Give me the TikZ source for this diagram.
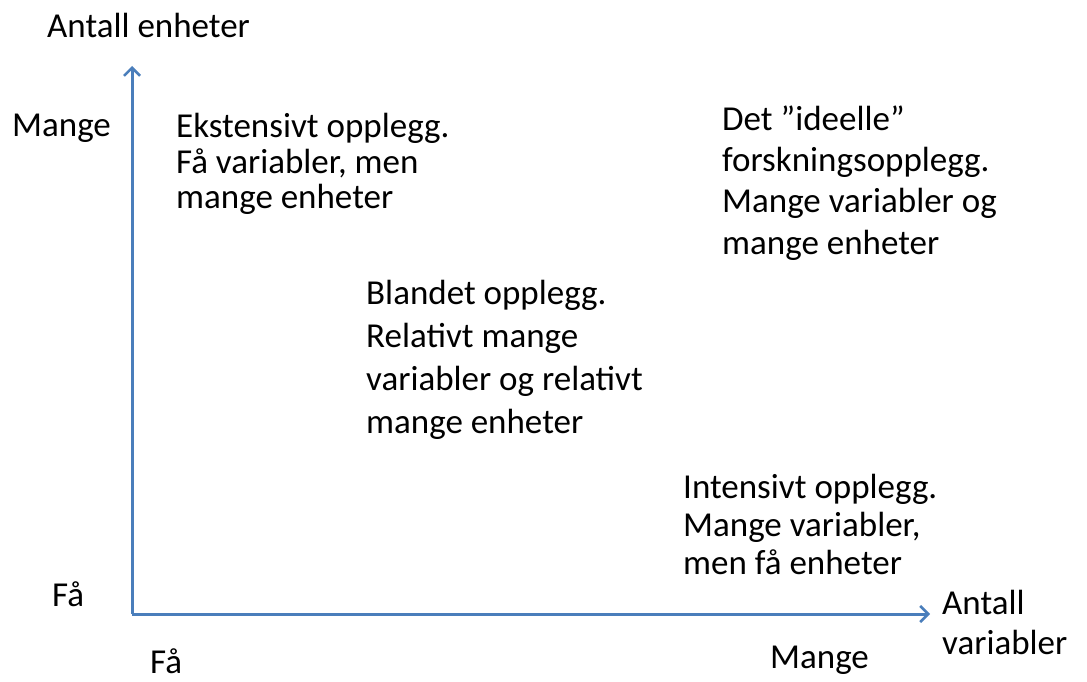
\documentclass[tikz,border=0pt]{standalone}
\usepackage{fontspec}
\setmainfont{Carlito}
\usetikzlibrary{arrows.meta}
\begin{document}
\begin{tikzpicture}[x=1bp,y=-1bp,
		akse/.style={draw=axisblue,line width=3bp,-{Straight Barb[length=8bp,width=16bp,line width=2.5bp]}},
		tekst/.style={anchor=base west,inner sep=0pt,align=left,font=\fontsize{35bp}{#1}\selectfont},
		tekst/.default=40bp]
					\definecolor{axisblue}{HTML}{4A7EBB}
					\useasboundingbox (0,0) rectangle (1087,682);
					\coordinate (origo) at (132,614);
					\coordinate (ytopp) at (132,66);
					\coordinate (xende) at (930,614);
					\draw[akse] (origo) -- (ytopp);
					\draw[akse] (origo) -- (xende);
					\node[tekst] (ylabel) at (47,38) {Antall enheter};
					\node[tekst] (ymange) at (12,137) {Mange};
					\node[tekst] (yfaa) at (52,606) {Få};
					\node[tekst] (xfaa) at (150,673) {Få};
					\node[tekst] (xmange) at (770,668) {Mange};
					\node[tekst] (xlabel) at (942,654) {Antall\\variabler};
					\node[tekst=35.5bp] (ekstensiv) at (176,209) {Ekstensivt opplegg.\\Få variabler, men\\mange enheter};
					\node[tekst=41.3bp] (ideell) at (722,254) {Det ”ideelle”\\forskningsopplegg.\\Mange variabler og\\mange enheter};
					\node[tekst=42.7bp] (blandet) at (366,433) {Blandet opplegg.\\Relativt mange\\variabler og relativt\\mange enheter};
					\node[tekst=38bp] (intensiv) at (683,574) {Intensivt opplegg.\\Mange variabler,\\men få enheter};
				\end{tikzpicture}
\end{document}
